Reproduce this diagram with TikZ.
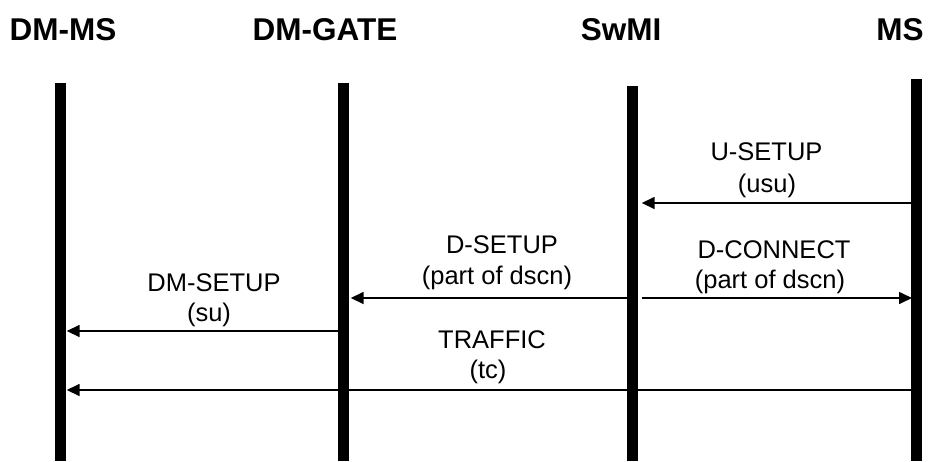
\documentclass[tikz,border=0pt]{standalone}
\usepackage{fontspec}
\setmainfont{Liberation Sans}
\usetikzlibrary{arrows.meta}
\begin{document}
\begin{tikzpicture}[x=1pt,y=1pt, font=\fontsize{25.5}{30}\selectfont,
  hdr/.style={anchor=base, inner sep=0pt, font=\fontsize{31.5}{36}\selectfont\bfseries},
  lbl/.style={anchor=base, inner sep=0pt},
  life/.style={line width=10.5pt},
  msg/.style={line width=1.6pt, -{Triangle[length=13pt,width=12pt]}}]
\useasboundingbox (0,0) rectangle (928,-461);
\node[hdr] (dmms) at (63,-40) {DM-MS};
\node[hdr] (dmgate) at (325,-40) {DM-GATE};
\node[hdr] (swmi) at (621,-40) {SwMI};
\node[hdr] (ms) at (900,-40) {MS};
\draw[life] (60.5,-83) -- (60.5,-461);
\draw[life] (343.5,-83) -- (343.5,-461);
\draw[life] (632.5,-86) -- (632.5,-461);
\draw[life] (916.5,-79) -- (916.5,-461);
% message ends
\coordinate (ms1) at (911,-203);  \coordinate (sw1) at (641.7,-203);
\coordinate (sw2) at (627,-298);  \coordinate (gt2) at (350.7,-298);
\coordinate (sw3) at (641.7,-298); \coordinate (ms3) at (912,-298);
\coordinate (gt4) at (338,-331);  \coordinate (dm4) at (66.7,-331);
\coordinate (ms5) at (911,-390);  \coordinate (dm5) at (66.7,-390);
\node[lbl] (usetup) at (766.5,-160) {U-SETUP};
\node[lbl] (usu) at (767,-192) {(usu)};
\node[lbl] (dsetup) at (502,-253.3) {D-SETUP};
\node[lbl] (dscna) at (497,-284.6) {(part of dscn)};
\node[lbl] (dconnect) at (774,-258.3) {D-CONNECT};
\node[lbl] (dscnb) at (770,-288) {(part of dscn)};
\node[lbl] (dmsetup) at (214,-291.7) {DM-SETUP};
\node[lbl] (su) at (209,-321.3) {(su)};
\node[lbl] (traffic) at (492,-348.3) {TRAFFIC};
\node[lbl] (tc) at (488,-378) {(tc)};
\draw[msg] (ms1) -- (sw1);
\draw[msg] (sw2) -- (gt2);
\draw[msg] (sw3) -- (ms3);
\draw[msg] (gt4) -- (dm4);
\draw[msg] (ms5) -- (dm5);
\end{tikzpicture}
\end{document}
